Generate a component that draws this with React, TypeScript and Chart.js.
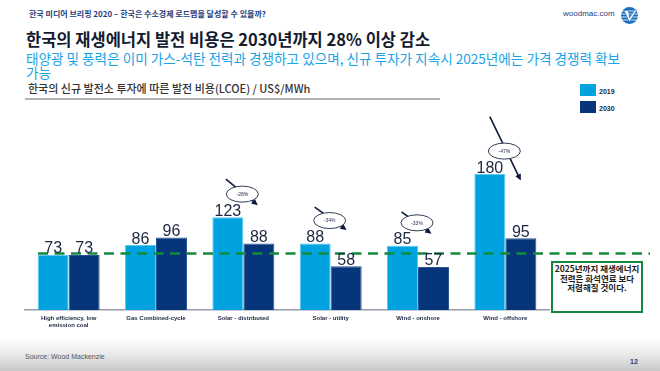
import React, { useEffect, useRef } from "react";
import { Chart, registerables } from "chart.js";

Chart.register(...registerables);

const categories: (string | string[])[] = [
  ["High efficiency, low", "emission coal"],
  "Gas Combined-cycle",
  "Solar - distributed",
  "Solar - utility",
  "Wind - onshore",
  "Wind - offshore",
];
const seriesNames = ["2019", "2030"];
const series2019 = [73, 86, 123, 88, 85, 180];
const series2030 = [73, 96, 88, 58, 57, 95];
const changeLabels: (string | null)[] = [null, null, "-28%", "-34%", "-33%", "-47%"];
const referenceLevel = 73;
const yMax = 200;

const COLORS = ["#00A3E0", "#06357A"];
const BORDERS = ["#5CC6EE", "#2A5595"];
const KR = '"Noto Sans CJK KR", "Noto Sans", sans-serif';
const LAT = '"Liberation Sans", Arial, sans-serif';

// arrow offsets relative to ellipse centre (style only)
const arrowStyle: Record<number, { s: [number, number]; e: [number, number] }> = {
  2: { s: [-16.5, -15], e: [15.5, 11] },
  3: { s: [-15, -13.5], e: [17, 9.5] },
  4: { s: [-15.5, -11], e: [14.5, 11] },
  5: { s: [-14.5, -34.5], e: [16.5, 29.5] },
};

const overlayPlugin = {
  id: "overlay",
  afterDatasetsDraw(chart: any) {
    const ctx = chart.ctx as CanvasRenderingContext2D;
    const xs = chart.scales.x;
    const ys = chart.scales.y;
    // dashed reference line
    ctx.save();
    ctx.strokeStyle = "#138A3C";
    ctx.lineWidth = 2.5;
    ctx.setLineDash([10, 6.5]);
    const yl = ys.getPixelForValue(referenceLevel) - 1.5;
    ctx.beginPath();
    ctx.moveTo(chart.chartArea.left + 13, yl);
    ctx.lineTo(650, yl);
    ctx.stroke();
    ctx.restore();

    // value labels
    ctx.save();
    ctx.fillStyle = "#1C2744";
    ctx.font = `16px ${LAT}`;
    ctx.textAlign = "center";
    ctx.textBaseline = "alphabetic";
    chart.data.datasets.forEach((ds: any, di: number) => {
      const meta = chart.getDatasetMeta(di);
      meta.data.forEach((bar: any, i: number) => {
        ctx.fillText(String(ds.data[i]), bar.x, bar.y - 1.5);
      });
    });
    ctx.restore();

    // change annotations
    changeLabels.forEach((lab, i) => {
      if (!lab) return;
      const st = arrowStyle[i];
      const cx = xs.getPixelForValue(i) - 1;
      const cy = ys.getPixelForValue(series2019[i]) - 23;
      const sx = cx + st.s[0], sy = cy + st.s[1];
      const ex = cx + st.e[0], ey = cy + st.e[1];
      const ang = Math.atan2(ey - sy, ex - sx);
      const hl = 7;
      ctx.save();
      ctx.strokeStyle = "#0E1A3C";
      ctx.fillStyle = "#0E1A3C";
      ctx.lineWidth = 1.6;
      ctx.beginPath();
      ctx.moveTo(sx, sy);
      ctx.lineTo(ex - Math.cos(ang) * hl * 0.8, ey - Math.sin(ang) * hl * 0.8);
      ctx.stroke();
      ctx.beginPath();
      ctx.moveTo(ex, ey);
      ctx.lineTo(ex - Math.cos(ang - 0.45) * hl, ey - Math.sin(ang - 0.45) * hl);
      ctx.lineTo(ex - Math.cos(ang + 0.45) * hl, ey - Math.sin(ang + 0.45) * hl);
      ctx.closePath();
      ctx.fill();
      // ellipse
      ctx.beginPath();
      ctx.ellipse(cx, cy, 16, 8, 0, 0, Math.PI * 2);
      ctx.fillStyle = "#FFFFFF";
      ctx.fill();
      ctx.lineWidth = 0.9;
      ctx.strokeStyle = "#1C2744";
      ctx.stroke();
      ctx.fillStyle = "#1C2744";
      ctx.font = `5px ${LAT}`;
      ctx.textAlign = "center";
      ctx.textBaseline = "middle";
      ctx.fillText(lab, cx, cy + 0.5);
      ctx.restore();
    });
  },
};

function ChartCanvas() {
  const ref = useRef<HTMLCanvasElement>(null);
  useEffect(() => {
    if (!ref.current) return;
    const chart = new Chart(ref.current, {
      type: "bar",
      data: {
        labels: categories as any,
        datasets: [
          {
            label: seriesNames[0],
            data: series2019,
            backgroundColor: COLORS[0],
            borderColor: BORDERS[0],
            borderWidth: 1,
            categoryPercentage: 0.71,
            barPercentage: 1,
          },
          {
            label: seriesNames[1],
            data: series2030,
            backgroundColor: COLORS[1],
            borderColor: BORDERS[1],
            borderWidth: 1,
            categoryPercentage: 0.71,
            barPercentage: 1,
          },
        ],
      },
      options: {
        responsive: false,
        animation: false,
        events: [],
        layout: { padding: { left: 25, right: 111, top: 59, bottom: 0 } },
        plugins: { legend: { display: false }, tooltip: { enabled: false } },
        scales: {
          x: {
            grid: { display: false, drawTicks: false },
            border: { display: true, color: "#9A9AAA", width: 1.5 },
            ticks: {
              color: "#1C2744",
              font: { family: LAT, size: 6, weight: "bold" },
              padding: 5,
              maxRotation: 0,
              autoSkip: false,
            },
            afterFit: (scale: any) => {
              scale.height = 30;
            },
          },
          y: { display: false, min: 0, max: yMax },
        },
      },
      plugins: [overlayPlugin],
    });
    return () => chart.destroy();
  }, []);
  return (
    <canvas
      ref={ref}
      width={660}
      height={240}
      style={{ position: "absolute", left: 0, top: 100, width: 660, height: 240 }}
    />
  );
}

export default function App() {
  return (
    <div
      style={{
        position: "fixed",
        left: 0,
        top: 0,
        width: 660,
        height: 371,
        background: "#fff",
        overflow: "hidden",
        fontFamily: KR,
      }}
    >
      <div style={{ position: "absolute", left: 29, top: 8, fontSize: 8, fontWeight: 700, color: "#1F3D7A", whiteSpace: "nowrap", lineHeight: "11px" }}>
        한국 미디어 브리핑 2020 – 한국은 수소경제 로드맵을 달성할 수 있을까?
      </div>
      <div style={{ position: "absolute", left: 563, top: 8, fontSize: 8, color: "#1F3D7A", fontFamily: LAT, lineHeight: "11px" }}>
        woodmac.com
      </div>
      <svg style={{ position: "absolute", left: 620, top: 6 }} width={19} height={19} viewBox="0 0 19 19">
        <circle cx={9.5} cy={9.5} r={8.5} fill="#1A6FBD" />
        {[5, 8, 11, 14].map((yy) => (
          <line key={yy} x1={1} x2={18} y1={yy} y2={yy} stroke="#fff" strokeWidth={0.8} />
        ))}
        <path d="M4 4.5 L8.5 4.5 L9.5 12 L15 3.5 L16.5 4.5 L9.5 16 Z" fill="#fff" stroke="#1A6FBD" strokeWidth={0.6} />
      </svg>
      <div style={{ position: "absolute", left: 26, top: 28, fontSize: 16.5, fontWeight: 700, color: "#141B2E", whiteSpace: "nowrap", lineHeight: "22px" }}>
        한국의 재생에너지 발전 비용은 2030년까지 28% 이상 감소
      </div>
      <div style={{ position: "absolute", left: 26, top: 51, width: 614, fontSize: 13.6, color: "#1AA3E6", lineHeight: "14px", wordBreak: "keep-all" }}>
        태양광 및 풍력은 이미 가스-석탄 전력과 경쟁하고 있으며, 신규 투자가 지속시 2025년에는 가격 경쟁력 확보 가능
      </div>
      <div style={{ position: "absolute", left: 28, top: 81, fontSize: 11, fontWeight: 500, color: "#333", whiteSpace: "nowrap", lineHeight: "15px" }}>
        한국의 신규 발전소 투자에 따른 발전 비용(LCOE) / US$/MWh
      </div>
      <div style={{ position: "absolute", left: 25, top: 98, width: 415, height: 1.5, background: "#B4B4B4" }} />
      {seriesNames.map((n, i) => (
        <div key={n} style={{ position: "absolute", left: 580, top: 84 + i * 17, display: "flex", alignItems: "flex-end" }}>
          <div style={{ width: 16, height: 12, background: COLORS[i] }} />
          <span style={{ marginLeft: 3, fontSize: 7, fontWeight: 700, color: "#1C2744", fontFamily: LAT, lineHeight: "8px" }}>{n}</span>
        </div>
      ))}
      <ChartCanvas />
      <div
        style={{
          position: "absolute",
          left: 551,
          top: 261,
          width: 88,
          height: 47,
          border: "2px solid #138A3C",
          background: "#fff",
          textAlign: "center",
          fontSize: 8.5,
          fontWeight: 700,
          color: "#222",
          lineHeight: "9.5px",
          paddingTop: 1,
          whiteSpace: "nowrap",
        }}
      >
        2025년까지 재생에너지
        <br />
        전력은 화석연료 보다
        <br />
        저렴해질 것이다.
      </div>
      <div style={{ position: "absolute", left: 0, top: 338, width: 660, height: 33, background: "linear-gradient(to bottom, #ffffff 0%, #e6e6e6 55%, #c6c6c6 100%)" }} />
      <div style={{ position: "absolute", left: 25, top: 352, fontSize: 7, color: "#555", fontFamily: LAT, lineHeight: "9px" }}>
        Source: Wood Mackenzie
      </div>
      <div style={{ position: "absolute", left: 630, top: 357, fontSize: 7, fontWeight: 700, color: "#1F3D7A", fontFamily: LAT, lineHeight: "9px" }}>
        12
      </div>
    </div>
  );
}
